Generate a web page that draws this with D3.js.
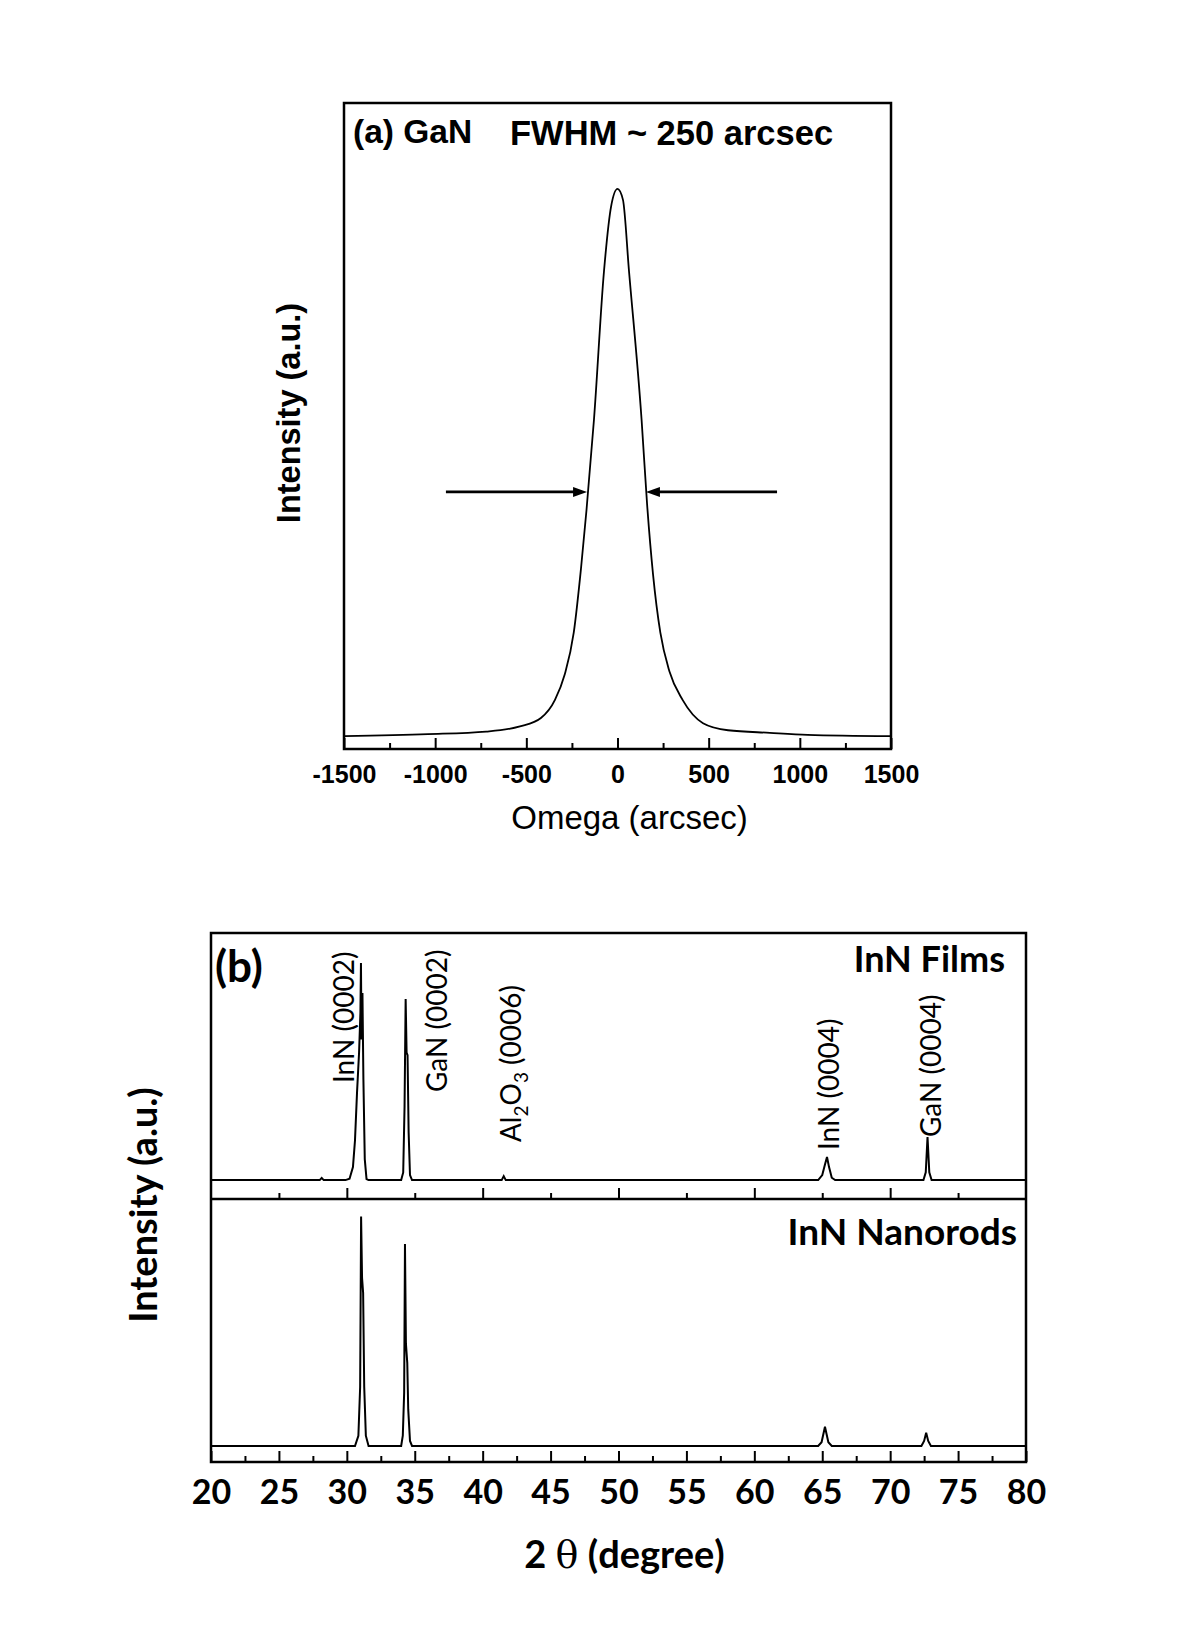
<!DOCTYPE html>
<html>
<head>
<meta charset="utf-8">
<script src="https://cdn.jsdelivr.net/npm/d3@7"></script>
<style>
	body { margin: 0; background: #fff; }
	.pa text { font-family: "Liberation Sans", Arial, sans-serif; }
	.pb text { font-family: Lato, "Open Sans", sans-serif; }
	.tick line { stroke: #000; stroke-width: 2; }
	.domain { display: none; }
</style>
</head>
<body>
<svg id="chart" width="1181" height="1649"></svg>
<script>
// ---- (a) GaN omega rocking curve ----
var omega = [-1500, -1040, -720, -535, -420, -343, -290, -240, -200, -170, -129, -74, -35, 0, 30, 63, 132, 162, 195, 235, 285, 357, 469, 606, 836, 1042, 1500];
var ganInt = [0.020, 0.023, 0.027, 0.035, 0.048, 0.076, 0.115, 0.18, 0.28, 0.37, 0.51, 0.74, 0.84, 0.867, 0.85, 0.74, 0.51, 0.38, 0.27, 0.18, 0.12, 0.076, 0.040, 0.029, 0.025, 0.022, 0.020];
var omegaTicks = [-1500, -1000, -500, 0, 500, 1000, 1500];
var omegaMinor = [-1250, -750, -250, 250, 750, 1250];
var fwhmArrowL = [-941, -167];   // arrow tail, tip (arcsec)
var fwhmArrowR = [875, 156];
var fwhmLevel = 0.398;

// ---- (b) XRD 2theta scans ----
var filmsAngle = [20, 28.0, 28.15, 28.3, 29.9, 30.2, 30.45, 30.6, 30.75, 30.9, 31.0, 31.04, 31.08, 31.15, 31.22, 31.32, 31.45, 31.6,
	34.0, 34.15, 34.25, 34.33, 34.4, 34.47, 34.55, 34.65, 34.8,
	41.4, 41.55, 41.7, 64.7, 65.0, 65.2, 65.35, 65.5, 65.7, 65.95, 72.45, 72.62, 72.75, 72.88, 73.05, 80];
var filmsInt = [0.071, 0.071, 0.079, 0.071, 0.071, 0.076, 0.12, 0.22, 0.40, 0.55, 0.70, 0.887, 0.60, 0.774, 0.45, 0.15, 0.075, 0.071,
	0.071, 0.10, 0.35, 0.752, 0.55, 0.541, 0.25, 0.09, 0.071,
	0.071, 0.086, 0.071, 0.071, 0.09, 0.13, 0.158, 0.12, 0.08, 0.071, 0.071, 0.10, 0.233, 0.10, 0.071, 0.071];

var rodsAngle = [20, 30.6, 30.85, 30.98, 31.05, 31.12, 31.2, 31.28, 31.4, 31.6,
	34.0, 34.12, 34.22, 34.28, 34.35, 34.45, 34.52, 34.65, 34.8,
	64.7, 64.95, 65.1, 65.2, 65.3, 65.45, 65.7, 72.3, 72.5, 72.65, 72.8, 73.0, 80];
var rodsInt = [0.061, 0.061, 0.10, 0.285, 0.933, 0.70, 0.643, 0.285, 0.10, 0.061,
	0.061, 0.10, 0.262, 0.829, 0.45, 0.376, 0.20, 0.08, 0.061,
	0.061, 0.075, 0.11, 0.134, 0.11, 0.075, 0.061, 0.061, 0.08, 0.111, 0.08, 0.061, 0.061];

var thetaTicks = [20, 25, 30, 35, 40, 45, 50, 55, 60, 65, 70, 75, 80];
var thetaMinor = [22.5, 27.5, 32.5, 37.5, 42.5, 47.5, 52.5, 57.5, 62.5, 67.5, 72.5, 77.5];
var filmsTicks = [30, 40, 50, 60, 70];
var filmsMinor = [25, 35, 45, 55, 65, 75];

var peakNames = ["InN (0002)", "GaN (0002)", "Al2O3 (0006)", "InN (0004)", "GaN (0004)"];

var svg = d3.select("#chart");

// ================= panel (a) =================
var A = { left: 344, right: 891, top: 103, bottom: 749 };
var xa = d3.scaleLinear().domain([-1500, 1500]).range([A.left, A.right]);
var ya = d3.scaleLinear().domain([0, 1]).range([A.bottom, A.top]);
var ga = svg.append("g").attr("class", "pa");

ga.append("path")
	.datum(d3.zip(omega, ganInt))
	.attr("fill", "none")
	.attr("stroke", "#000")
	.attr("stroke-width", 1.8)
	.attr("d", d3.line().x(d => xa(d[0])).y(d => ya(d[1])).curve(d3.curveMonotoneX));

ga.append("g")
	.attr("transform", "translate(0," + A.bottom + ")")
	.call(d3.axisBottom(xa).tickValues(omegaTicks).tickSize(-11).tickPadding(16).tickFormat(d => String(d)))
	.call(g => g.selectAll("text").attr("font-size", 25).attr("font-weight", "bold").attr("fill", "#000"));
ga.append("g")
	.attr("transform", "translate(0," + A.bottom + ")")
	.call(d3.axisBottom(xa).tickValues(omegaMinor).tickSize(-6).tickFormat(""));

ga.append("rect")
	.attr("x", A.left).attr("y", A.top)
	.attr("width", A.right - A.left).attr("height", A.bottom - A.top)
	.attr("fill", "none").attr("stroke", "#000").attr("stroke-width", 2.5);

// FWHM arrows
function arrow(g, x0, x1, y) {
	var dir = x1 > x0 ? 1 : -1;
	g.append("line")
		.attr("x1", x0).attr("x2", x1 - dir * 10).attr("y1", y).attr("y2", y)
		.attr("stroke", "#000").attr("stroke-width", 2.7);
	g.append("path")
		.attr("d", "M" + x1 + "," + y + "L" + (x1 - dir * 14) + "," + (y - 5) + "L" + (x1 - dir * 14) + "," + (y + 5) + "Z")
		.attr("fill", "#000");
}
arrow(ga, xa(fwhmArrowL[0]), xa(fwhmArrowL[1]), ya(fwhmLevel));
arrow(ga, xa(fwhmArrowR[0]), xa(fwhmArrowR[1]), ya(fwhmLevel));

ga.append("text").attr("x", 353).attr("y", 143)
	.attr("font-size", 33.5).attr("font-weight", "bold").text("(a) GaN");
ga.append("text").attr("x", 510).attr("y", 145)
	.attr("font-size", 34.5).attr("font-weight", "bold").text("FWHM ~ 250 arcsec");
ga.append("text").attr("x", (A.left + A.right) / 2 + 12).attr("y", 829)
	.attr("text-anchor", "middle").attr("font-size", 33).text("Omega (arcsec)");
ga.append("text")
	.attr("transform", "translate(300," + 413 + ") rotate(-90)")
	.attr("text-anchor", "middle").attr("font-size", 32.5).attr("font-weight", "bold")
	.text("Intensity (a.u.)");

// ================= panel (b) =================
var B = { left: 211, right: 1026, top: 933, mid: 1199, bottom: 1462 };
var xb = d3.scaleLinear().domain([20, 80]).range([B.left, B.right]);
var yFilms = d3.scaleLinear().domain([0, 1]).range([B.mid, B.top]);
var yRods = d3.scaleLinear().domain([0, 1]).range([B.bottom, B.mid]);
var gb = svg.append("g").attr("class", "pb");

gb.append("path")
	.datum(d3.zip(filmsAngle, filmsInt))
	.attr("fill", "none").attr("stroke", "#000").attr("stroke-width", 2)
	.attr("d", d3.line().x(d => xb(d[0])).y(d => yFilms(d[1])));
gb.append("path")
	.datum(d3.zip(rodsAngle, rodsInt))
	.attr("fill", "none").attr("stroke", "#000").attr("stroke-width", 2)
	.attr("d", d3.line().x(d => xb(d[0])).y(d => yRods(d[1])));

// films panel ticks (no labels)
gb.append("g").attr("transform", "translate(0," + B.mid + ")")
	.call(d3.axisBottom(xb).tickValues(filmsTicks).tickSize(-11).tickFormat(""));
gb.append("g").attr("transform", "translate(0," + B.mid + ")")
	.call(d3.axisBottom(xb).tickValues(filmsMinor).tickSize(-6).tickFormat(""));
// bottom axis
gb.append("g").attr("transform", "translate(0," + B.bottom + ")")
	.call(d3.axisBottom(xb).tickValues(thetaTicks).tickSize(-11).tickPadding(18).tickFormat(d => String(d)))
	.call(g => g.selectAll("text").attr("font-size", 34).attr("font-weight", "bold").attr("fill", "#000"));
gb.append("g").attr("transform", "translate(0," + B.bottom + ")")
	.call(d3.axisBottom(xb).tickValues(thetaMinor).tickSize(-6).tickFormat(""));

gb.append("rect")
	.attr("x", B.left).attr("y", B.top)
	.attr("width", B.right - B.left).attr("height", B.bottom - B.top)
	.attr("fill", "none").attr("stroke", "#000").attr("stroke-width", 2.5);
gb.append("line")
	.attr("x1", B.left).attr("x2", B.right).attr("y1", B.mid).attr("y2", B.mid)
	.attr("stroke", "#000").attr("stroke-width", 2.5);

// peak labels, rotated
var labelAt = [[30.5, 0.436], [37.35, 0.402], [42.85, 0.214], [66.25, 0.184], [73.75, 0.233]];
peakNames.forEach(function(name, i) {
	var t = gb.append("text")
		.attr("transform", "translate(" + xb(labelAt[i][0]) + "," + yFilms(labelAt[i][1]) + ") rotate(-90)")
		.attr("font-size", 28);
	if (name.indexOf("Al2O3") == 0) {
		t.append("tspan").text("Al");
		t.append("tspan").attr("font-size", 19).attr("dy", 7).text("2");
		t.append("tspan").attr("dy", -7).text("O");
		t.append("tspan").attr("font-size", 19).attr("dy", 7).text("3");
		t.append("tspan").attr("dy", -7).text(name.slice(5));
	} else {
		t.text(name);
	}
});

gb.append("text").attr("x", 215).attr("y", 982)
	.attr("font-size", 44).attr("font-weight", "bold").text("(b)");
gb.append("text").attr("x", 1005).attr("y", 972).attr("text-anchor", "end")
	.attr("font-size", 36).attr("font-weight", "bold").text("InN Films");
gb.append("text").attr("x", 1017).attr("y", 1245).attr("text-anchor", "end")
	.attr("font-size", 37).attr("font-weight", "bold").text("InN Nanorods");

var xt = gb.append("text").attr("x", (B.left + B.right) / 2 + 6).attr("y", 1568)
	.attr("text-anchor", "middle").attr("font-size", 38).attr("font-weight", "bold");
xt.append("tspan").text("2 ");
xt.append("tspan").attr("font-family", "'DejaVu Serif', serif").attr("font-weight", "normal").text("θ");
xt.append("tspan").text(" (degree)");

gb.append("text")
	.attr("transform", "translate(157," + 1205 + ") rotate(-90)")
	.attr("text-anchor", "middle").attr("font-size", 38).attr("font-weight", "bold")
	.text("Intensity (a.u.)");
</script>
</body>
</html>
